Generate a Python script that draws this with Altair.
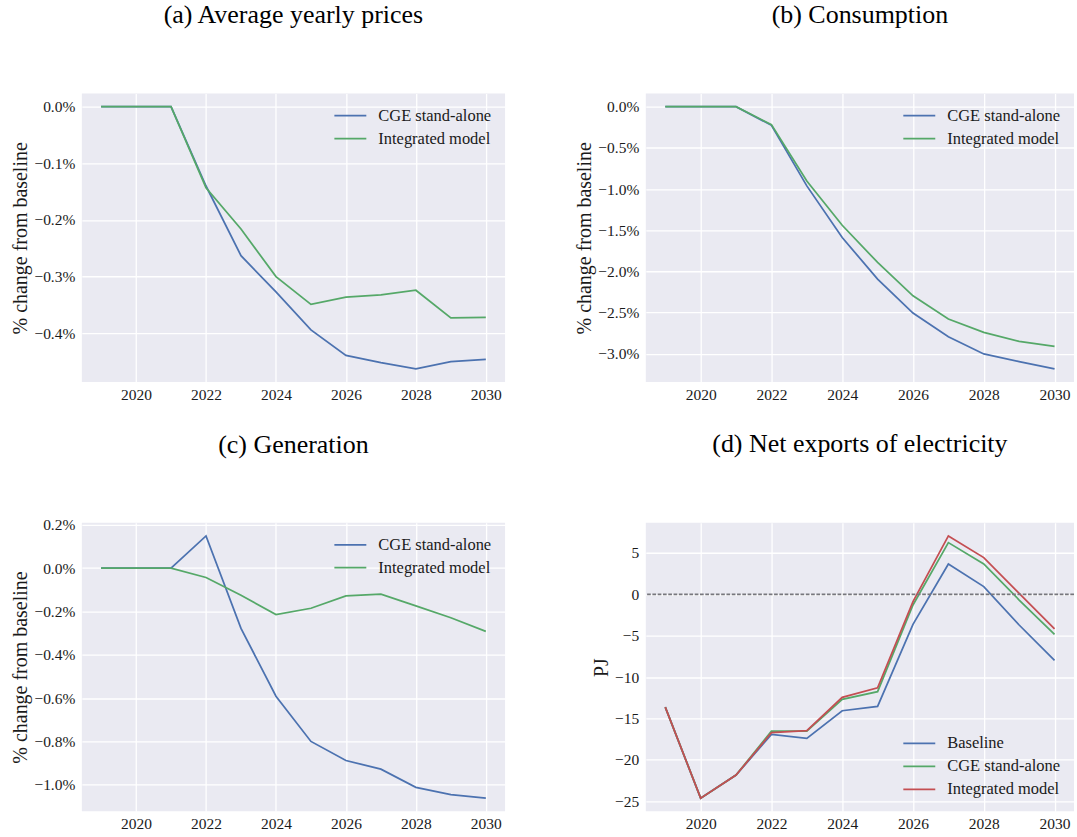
import altair as alt
import pandas as pd

# ---- data -----------------------------------------------------------------
years = list(range(2019, 2031))

# (a) average yearly prices, % change from baseline
prices_cge = [0.0, 0.0, 0.0, -0.140, -0.263, -0.327, -0.394, -0.439, -0.452, -0.463, -0.450, -0.446]
prices_int = [0.0, 0.0, 0.0, -0.143, -0.216, -0.300, -0.349, -0.336, -0.332, -0.324, -0.373, -0.372]

# (b) consumption, % change from baseline
cons_cge = [0.0, 0.0, 0.0, -0.226, -0.962, -1.589, -2.095, -2.507, -2.794, -3.004, -3.097, -3.186]
cons_int = [0.0, 0.0, 0.0, -0.218, -0.902, -1.440, -1.892, -2.297, -2.580, -2.742, -2.851, -2.911]

# (c) generation, % change from baseline
gen_cge = [0.0, 0.0, 0.0, 0.149, -0.278, -0.591, -0.800, -0.888, -0.928, -1.012, -1.046, -1.062]
gen_int = [0.0, 0.0, 0.0, -0.043, -0.125, -0.214, -0.185, -0.128, -0.120, -0.174, -0.229, -0.292]

# (d) net exports of electricity, PJ
nx_base = [-13.63, -24.64, -21.85, -16.94, -17.42, -14.07, -13.55, -3.63, 3.67, 0.93, -3.71, -7.98]
nx_cge = [-13.63, -24.64, -21.85, -16.53, -16.53, -12.70, -11.77, -1.29, 6.25, 3.67, -0.69, -4.84]
nx_int = [-13.63, -24.64, -21.85, -16.73, -16.49, -12.46, -11.29, -0.89, 7.06, 4.44, 0.12, -4.19]

x_ticks = [2020, 2022, 2024, 2026, 2028, 2030]
ticks_a = [0.0, -0.1, -0.2, -0.3, -0.4]
ticks_b = [0.0, -0.5, -1.0, -1.5, -2.0, -2.5, -3.0]
ticks_c = [0.2, 0.0, -0.2, -0.4, -0.6, -0.8, -1.0]
ticks_d = [5, 0, -5, -10, -15, -20, -25]

two_names = ["CGE stand-alone", "Integrated model"]
three_names = ["Baseline", "CGE stand-alone", "Integrated model"]
BLUE, GREEN, RED = "#4C72B0", "#55A868", "#C44E52"

SERIF = "Liberation Serif"
PCT = "format(datum.value, '.1f') + '%'"
W1, W2, H = 424, 429, 289


def panel(title, series, names, colors, yticks, ytitle, label_expr,
          legend_orient, width, zero_line=False, title_offset=45):
    rows = []
    for name, vals in zip(names, series):
        for yr, v in zip(years, vals):
            rows.append({"year": yr, "value": v, "series": name})
    df = pd.DataFrame(rows)

    # 5% padding around the data range on both axes
    allv = [v for s in series for v in s]
    lo, hi = min(allv), max(allv)
    pad = 0.05 * (hi - lo)
    xpad = 0.05 * (years[-1] - years[0])

    x = alt.X("year:Q",
              scale=alt.Scale(domain=[years[0] - xpad, years[-1] + xpad], nice=False, zero=False),
              axis=alt.Axis(values=x_ticks, format="d", title=None))
    y_axis = dict(values=yticks, title=ytitle)
    if label_expr:
        y_axis["labelExpr"] = label_expr
    else:
        y_axis["format"] = "d"
    y = alt.Y("value:Q",
              scale=alt.Scale(domain=[lo - pad, hi + pad], nice=False, zero=False),
              axis=alt.Axis(**y_axis))

    lines = alt.Chart(df).mark_line(strokeWidth=1.75).encode(
        x=x,
        y=y,
        color=alt.Color("series:N",
                        scale=alt.Scale(domain=names, range=colors),
                        legend=alt.Legend(title=None, orient=legend_orient, offset=13)),
    )
    chart = lines
    if zero_line:
        rule = alt.Chart(pd.DataFrame({"value": [0]})).mark_rule(
            color="#77777d", strokeWidth=1.8, strokeDash=[3.7, 1.6]
        ).encode(y=y)
        chart = alt.layer(lines, rule)
    return chart.properties(
        width=width, height=H,
        title=alt.TitleParams(text=title, font=SERIF, fontSize=26, fontWeight="normal",
                              color="black", anchor="middle", baseline="alphabetic",
                              offset=title_offset),
    )


a = panel("(a) Average yearly prices", [prices_cge, prices_int], two_names, [BLUE, GREEN],
          ticks_a, "% change from baseline", PCT, "top-right", W1)
b = panel("(b) Consumption", [cons_cge, cons_int], two_names, [BLUE, GREEN],
          ticks_b, "% change from baseline", PCT, "top-right", W2)
c = panel("(c) Generation", [gen_cge, gen_int], two_names, [BLUE, GREEN],
          ticks_c, "% change from baseline", PCT, "top-right", W1, title_offset=39)
d = panel("(d) Net exports of electricity", [nx_base, nx_cge, nx_int], three_names,
          [BLUE, GREEN, RED], ticks_d, "PJ", None, "bottom-right", W2, zero_line=True)

chart = alt.concat(a, b, c, d, columns=2, spacing=141, bounds="flush").resolve_scale(
    color="independent",
).resolve_legend(
    color="independent",
).properties(
    padding={"left": 10, "top": 1, "right": 2, "bottom": 5},
).configure_view(
    fill="#EAEAF2", stroke=None,
).configure_axis(
    domain=False, ticks=False, grid=True, gridColor="white", gridWidth=1.3,
    labelFont=SERIF, labelFontSize=15.5, labelColor="#1a1a1a",
    titleFont=SERIF, titleFontSize=20, titleFontWeight="normal", titleColor="#1a1a1a",
).configure_axisX(
    labelPadding=5,
).configure_axisY(
    labelPadding=7, titlePadding=3,
).configure_legend(
    symbolType="M-2,0L2,0", symbolSize=256, symbolStrokeWidth=1.75,
    labelFont=SERIF, labelFontSize=16.5, labelColor="#1a1a1a",
    labelOffset=19, rowPadding=5, padding=0,
)

chart.save("out.html", embed_options={"renderer": "svg", "actions": False})
